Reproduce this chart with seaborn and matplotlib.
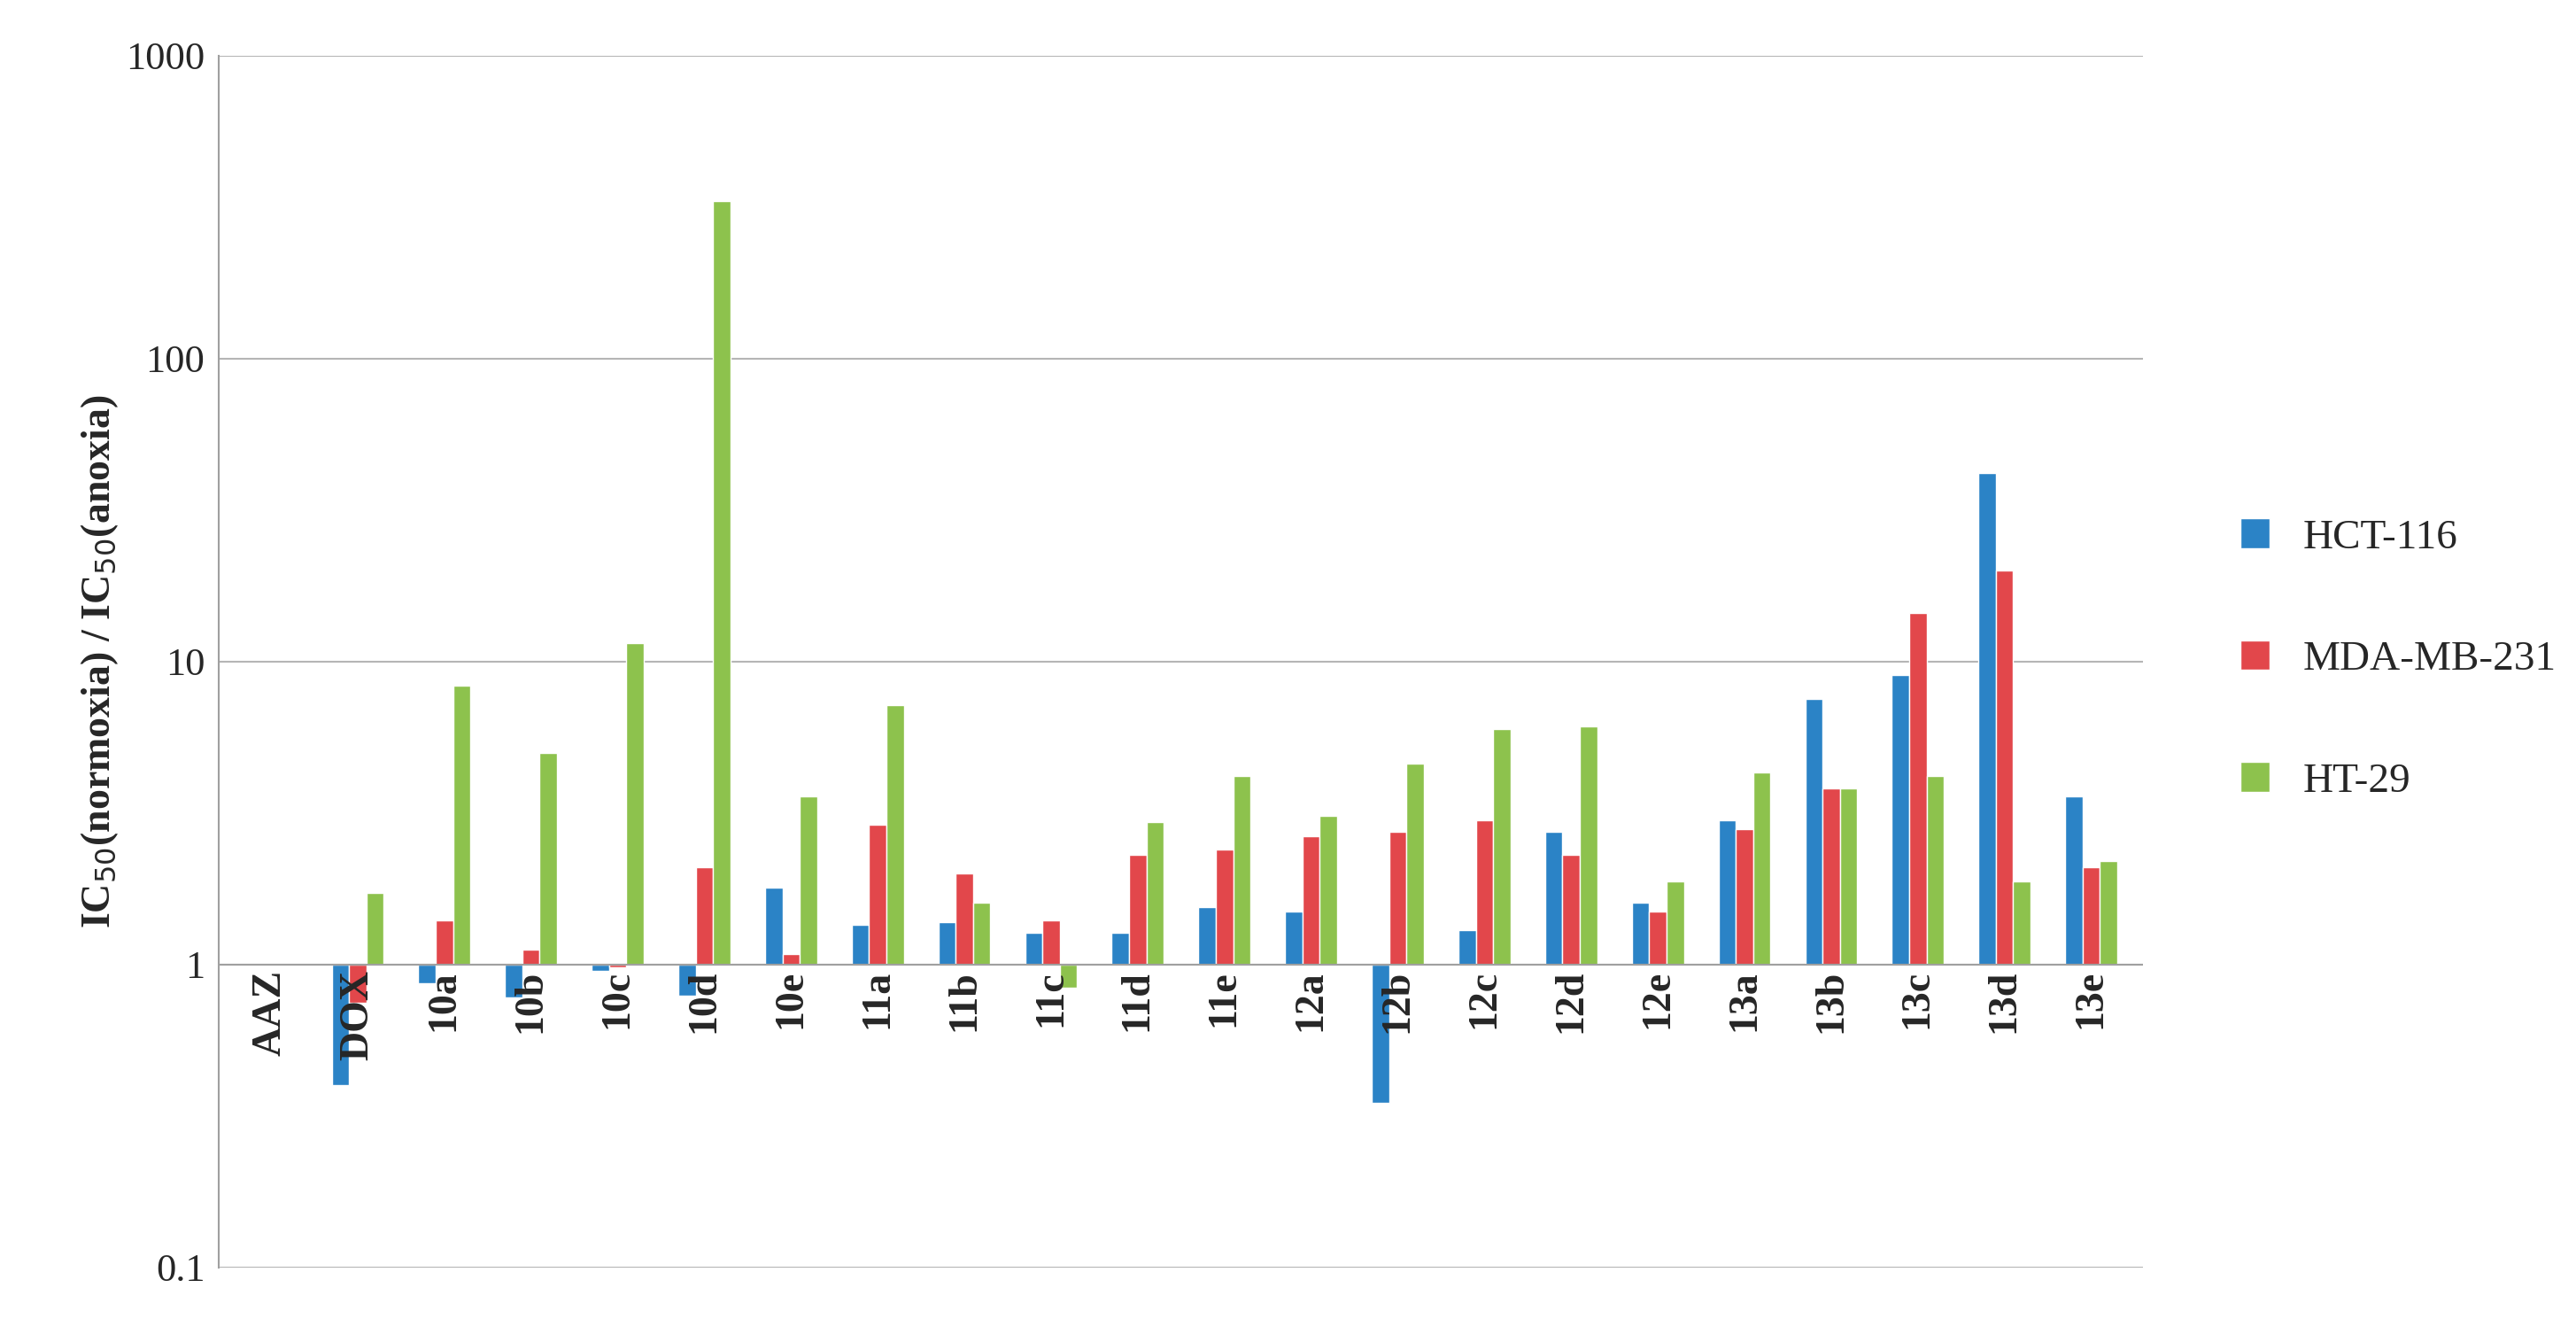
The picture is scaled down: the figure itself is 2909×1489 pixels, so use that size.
import numpy as np
import matplotlib
matplotlib.use("Agg")
import matplotlib.pyplot as plt
import seaborn as sns

categories = ["AAZ","DOX","10a","10b","10c","10d","10e","11a","11b","11c","11d","11e",
              "12a","12b","12c","12d","12e","13a","13b","13c","13d","13e"]
hct116 = [np.nan,0.40,0.87,0.78,0.95,0.79,1.8,1.35,1.38,1.27,1.27,1.55,1.5,0.35,1.3,2.75,1.6,3.0,7.5,9.0,42,3.6]
mda231 = [np.nan,0.75,1.4,1.12,0.98,2.1,1.08,2.9,2.0,1.4,2.3,2.4,2.65,2.75,3.0,2.3,1.5,2.8,3.8,14.5,20,2.1]
ht29   = [np.nan,1.72,8.3,5.0,11.5,330,3.6,7.2,1.6,0.84,2.95,4.2,3.1,4.6,6.0,6.1,1.88,4.3,3.8,4.2,1.88,2.2]
series = [("HCT-116", hct116, "#2b83c6"), ("MDA-MB-231", mda231, "#e2474b"), ("HT-29", ht29, "#8dc24d")]

sns.set_style("white")
plt.rcParams['font.family'] = ['Liberation Serif', 'DejaVu Serif']

fig = plt.figure(figsize=(29.09, 14.89), dpi=100)
ax = fig.add_axes([0.085, 0.039, 0.747, 0.919])
x = np.arange(len(categories))
w = 0.2
for k, (name, vals, col) in enumerate(series):
    v = np.array(vals, dtype=float)
    ax.bar(x + (k - 1) * w, v - 1, bottom=1, width=w, color=col, label=name, zorder=3)

ax.set_yscale('log')
ax.set_ylim(0.1, 1000)
ax.set_xlim(-0.6, len(categories) - 0.4)
ax.set_yticks([0.1, 1, 10, 100, 1000])
ax.set_yticklabels(["0.1", "1", "10", "100", "1000"], fontsize=32)
ax.yaxis.grid(True, color="#b5b5b5", linewidth=1.5, zorder=0)
ax.minorticks_off()
ax.set_xticks([])
for s in ["top", "right", "bottom"]:
    ax.spines[s].set_visible(False)
ax.spines["left"].set_color("#a0a0a0")
ax.spines["left"].set_linewidth(1.5)
ax.axhline(1, color="#a0a0a0", linewidth=1.5, zorder=4)
ax.tick_params(axis='y', length=8, color="#a0a0a0", width=1.5)
for i, c in enumerate(categories):
    ax.text(i, 0.96, c, rotation=90, ha='center', va='top', fontsize=33, fontweight='bold')
ax.set_ylabel(r"IC$_{50}$(normoxia) / IC$_{50}$(anoxia)", fontsize=33, fontweight='bold')

fig.legend(loc='center left', bbox_to_anchor=(0.855, 0.5), frameon=False, fontsize=34,
           handlelength=0.7, handleheight=0.7, labelspacing=2.0)
fig.savefig("out.png", dpi=100)
